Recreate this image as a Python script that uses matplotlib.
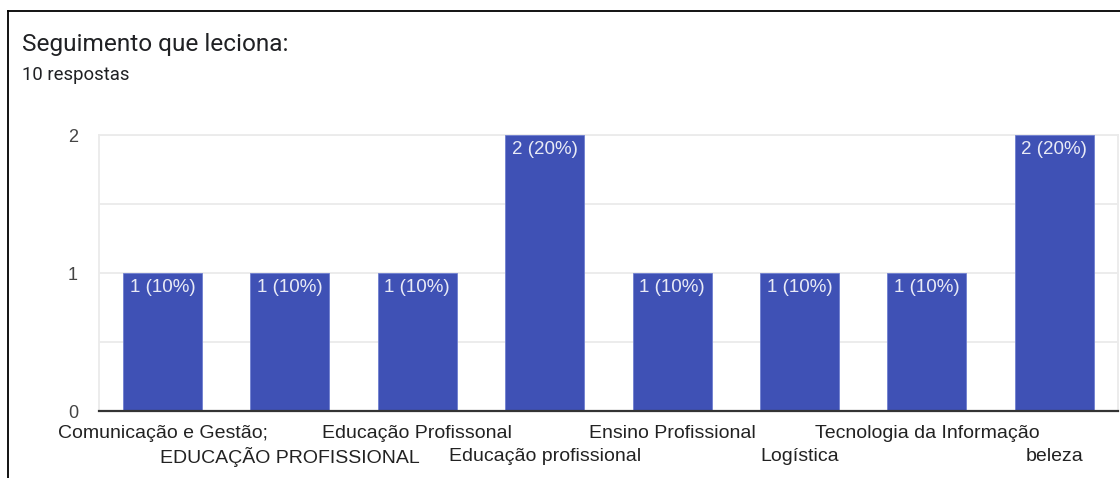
import matplotlib
matplotlib.use("Agg")
import matplotlib.pyplot as plt
from matplotlib.lines import Line2D
import numpy as np

title = "Seguimento que leciona:"
subtitle = "10 respostas"
categories = [
    "Comunicação e Gestão;",
    "EDUCAÇÃO PROFISSIONAL",
    "Educação Profissonal",
    "Educação profissional",
    "Ensino Profissional",
    "Logística",
    "Tecnologia da Informação",
    "beleza",
]
counts = [1, 1, 1, 2, 1, 1, 1, 2]
total_responses = 10
y_ticks = [0, 1, 2]

W, H = 1120, 478
fig = plt.figure(figsize=(W / 100, H / 100), dpi=100)
fig.patch.set_facecolor("white")

# frame lines (top and left border of the card)
fig.add_artist(Line2D([7.5 / W, 1.0], [1 - 11 / H, 1 - 11 / H], color="black", lw=1.3))
fig.add_artist(Line2D([7.5 / W, 7.5 / W], [0, 1 - 11 / H], color="black", lw=1.3))

fig.text(22 / W, 1 - 44 / H, title, fontsize=17.6, family="Roboto", color="#202124", va="center", ha="left")
fig.text(22 / W, 1 - 75 / H, subtitle, fontsize=13.3, family="Roboto", color="#202124", va="center", ha="left")

ax = fig.add_axes([98.8 / W, 1 - 411 / H, (1118 - 98.8) / W, (411 - 135) / H])
x = np.arange(len(categories))
bar_color = "#3f51b5"
bars = ax.bar(x, counts, width=0.62, color=bar_color, edgecolor="#6f7fd0", linewidth=0.6, zorder=3)

for xi, c in zip(x, counts):
    pct = round(100 * c / total_responses)
    ax.annotate(f"{c} ({pct}%)", xy=(xi, c), xytext=(0, -4.5), textcoords="offset points",
                ha="center", va="top", color="#e8eaf6", fontsize=13.5,
                family="Liberation Sans", zorder=4)

ax.set_xlim(-0.5, len(categories) - 0.5)
ax.set_ylim(0, 2)
ax.set_yticks(y_ticks)
ax.set_yticklabels([str(t) for t in y_ticks], fontsize=13, family="Liberation Sans", color="#444444")
ax.set_yticks([0.5, 1.5], minor=True)
ax.tick_params(axis="y", which="both", length=0, pad=15)
ax.grid(axis="y", which="both", color="#ebebeb", lw=1.3, zorder=0)

# staggered category labels: even on major ticks, odd on minor ticks
lab_kw = dict(fontsize=14, family="Liberation Sans", color="#222222")
ax.set_xticks(x[0::2])
ax.set_xticklabels(categories[0::2], va="center", **lab_kw)
ax.set_xticks(x[1::2], minor=True)
ax.set_xticklabels(categories[1::2], minor=True, va="center", **lab_kw)
ax.tick_params(axis="x", which="major", length=0, pad=16)
ax.tick_params(axis="x", which="minor", length=0, pad=33)

for s in ["top", "left", "right"]:
    ax.spines[s].set_color("#ebebeb")
    ax.spines[s].set_linewidth(1.3)
ax.spines["bottom"].set_color("#333333")
ax.spines["bottom"].set_linewidth(1.6)
ax.spines["bottom"].set_zorder(5)

fig.savefig("out.png", dpi=100)
